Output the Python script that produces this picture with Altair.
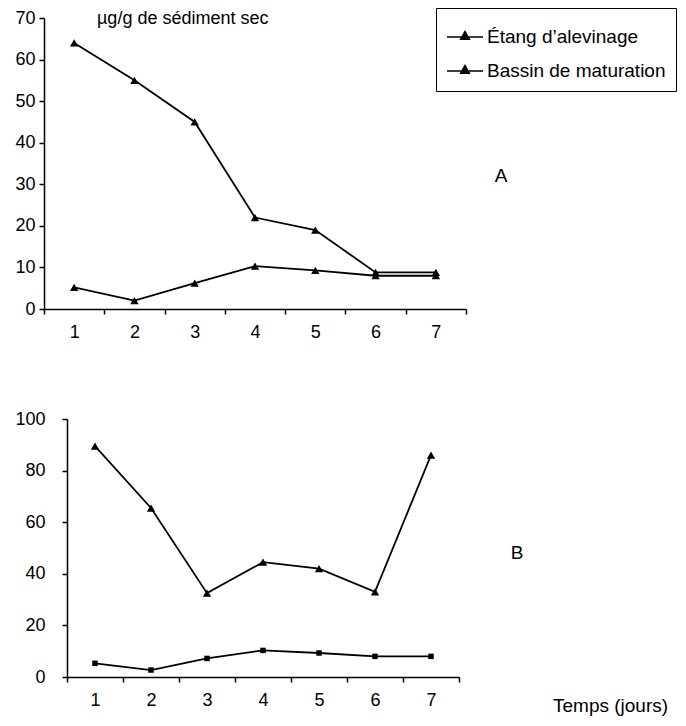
import altair as alt
import pandas as pd

# ---------------- data ----------------
days = [1, 2, 3, 4, 5, 6, 7]
series_names = ["Étang d’alevinage", "Bassin de maturation"]
a_etang = [64, 55, 45, 22, 19, 8.8, 8.8]
a_bassin = [5.2, 2.0, 6.2, 10.3, 9.3, 8.0, 8.0]
b_etang = [89.5, 65.5, 32.5, 44.5, 42, 33, 86]
b_bassin = [5.3, 2.7, 7.2, 10.3, 9.3, 8.0, 8.0]
a_ticks = [0, 10, 20, 30, 40, 50, 60, 70]
b_ticks = [0, 20, 40, 60, 80, 100]
unit_label = "µg/g de sédiment sec"
x_title = "Temps (jours)"
panel_labels = ["A", "B"]

FONT = "Liberation Sans, Arial, sans-serif"

W, H = 634, 700          # single drawing area (page origin at 44, 18)

dfA = pd.DataFrame({
    "day": days * 2,
    "value": a_etang + a_bassin,
    "series": [series_names[0]] * len(days) + [series_names[1]] * len(days),
})
dfB = pd.DataFrame({
    "day": days * 2,
    "value": b_etang + b_bassin,
    "series": [series_names[0]] * len(days) + [series_names[1]] * len(days),
})

# ---------------- panel A ----------------
xA = alt.X("day:O",
           scale=alt.Scale(type="band", paddingInner=0, paddingOuter=0,
                           range=[0, 422]),
           axis=alt.Axis(title=None, tickBand="extent", labelAngle=0,
                         labelPadding=9, orient="bottom", offset=-(H - 291)))
yA = alt.Y("value:Q", scale=alt.Scale(domain=[0, 70], nice=False, range=[291, 0]),
           axis=alt.Axis(title=None, values=a_ticks, labelPadding=4,
                         orient="left", offset=0))
colA = alt.Color("series:N",
                 scale=alt.Scale(domain=series_names, range=["black", "black"]),
                 legend=alt.Legend(
                     title=None, orient="none", legendX=392, legendY=-10,
                     direction="vertical",
                     symbolType="M-1,0L1,0M-0.24,0.12L0,-0.3L0.24,0.12Z",
                     symbolSize=1296, symbolStrokeWidth=1.5,
                     symbolFillColor="black", symbolStrokeColor="black",
                     symbolOpacity=1,
                     labelFont=FONT, labelFontSize=19, labelColor="black",
                     labelOffset=3, labelLimit=400,
                     strokeColor="black", fillColor="white", padding=10,
                     rowPadding=5))

baseA = alt.Chart(dfA)
lineA = baseA.mark_line(strokeWidth=1.8).encode(x=xA, y=yA, color=colA)
ptsA = baseA.mark_point(shape="triangle-up", filled=True, size=70,
                        opacity=1).encode(x=xA, y=yA, color=colA)
panelA = alt.layer(lineA, ptsA)

# ---------------- panel B ----------------
xB = alt.X("day:O",
           scale=alt.Scale(type="band", paddingInner=0, paddingOuter=0,
                           range=[23, 23 + 392]),
           axis=alt.Axis(title=None, tickBand="extent", labelAngle=0,
                         labelPadding=9, orient="bottom", offset=-(H - 659)))
yB = alt.Y("value:Q", scale=alt.Scale(domain=[0, 100], nice=False,
                                      range=[659, 401]),
           axis=alt.Axis(title=None, values=b_ticks, labelPadding=17,
                         orient="left", offset=-23))
baseB = alt.Chart(dfB)
lineB = baseB.mark_line(strokeWidth=1.8, color="black").encode(
    x=xB, y=yB, detail="series:N")
triB = baseB.transform_filter(alt.datum.series == series_names[0]).mark_point(
    shape="triangle-up", filled=True, size=70, opacity=1, color="black"
).encode(x=xB, y=yB)
sqB = baseB.transform_filter(alt.datum.series == series_names[1]).mark_point(
    shape="square", filled=True, size=30, opacity=1, color="black"
).encode(x=xB, y=yB)
panelB = alt.layer(lineB, triB, sqB)

# ---------------- annotations ----------------
def note(text, x, y, align="center", baseline="middle", size=19):
    return alt.Chart(pd.DataFrame({"t": [text]})).mark_text(
        font=FONT, fontSize=size, align=align, baseline=baseline, color="black"
    ).encode(x=alt.value(x), y=alt.value(y), text="t:N")

notes = alt.layer(
    note(unit_label, 53, 6, align="left", baseline="alphabetic", size=18),
    note(panel_labels[0], 457, 158),
    note(panel_labels[1], 473, 535),
    note(x_title, 509, 688, align="left"),
)

chart = alt.layer(panelA, panelB, notes).resolve_scale(
    x="independent", y="independent"
).resolve_axis(
    x="independent", y="independent"
).properties(
    width=W, height=H,
    autosize=alt.AutoSizeParams(type="none"),
    padding={"left": 36, "top": 10, "right": 0, "bottom": 0},
).configure_view(stroke=None).configure_axis(
    grid=False, domainColor="black", tickColor="black", labelColor="black",
    labelFont=FONT, labelFontSize=18, tickSize=5, domainWidth=1.5,
    tickWidth=1.5
)

chart.save("out.html", embed_options={"renderer": "svg", "actions": False})
